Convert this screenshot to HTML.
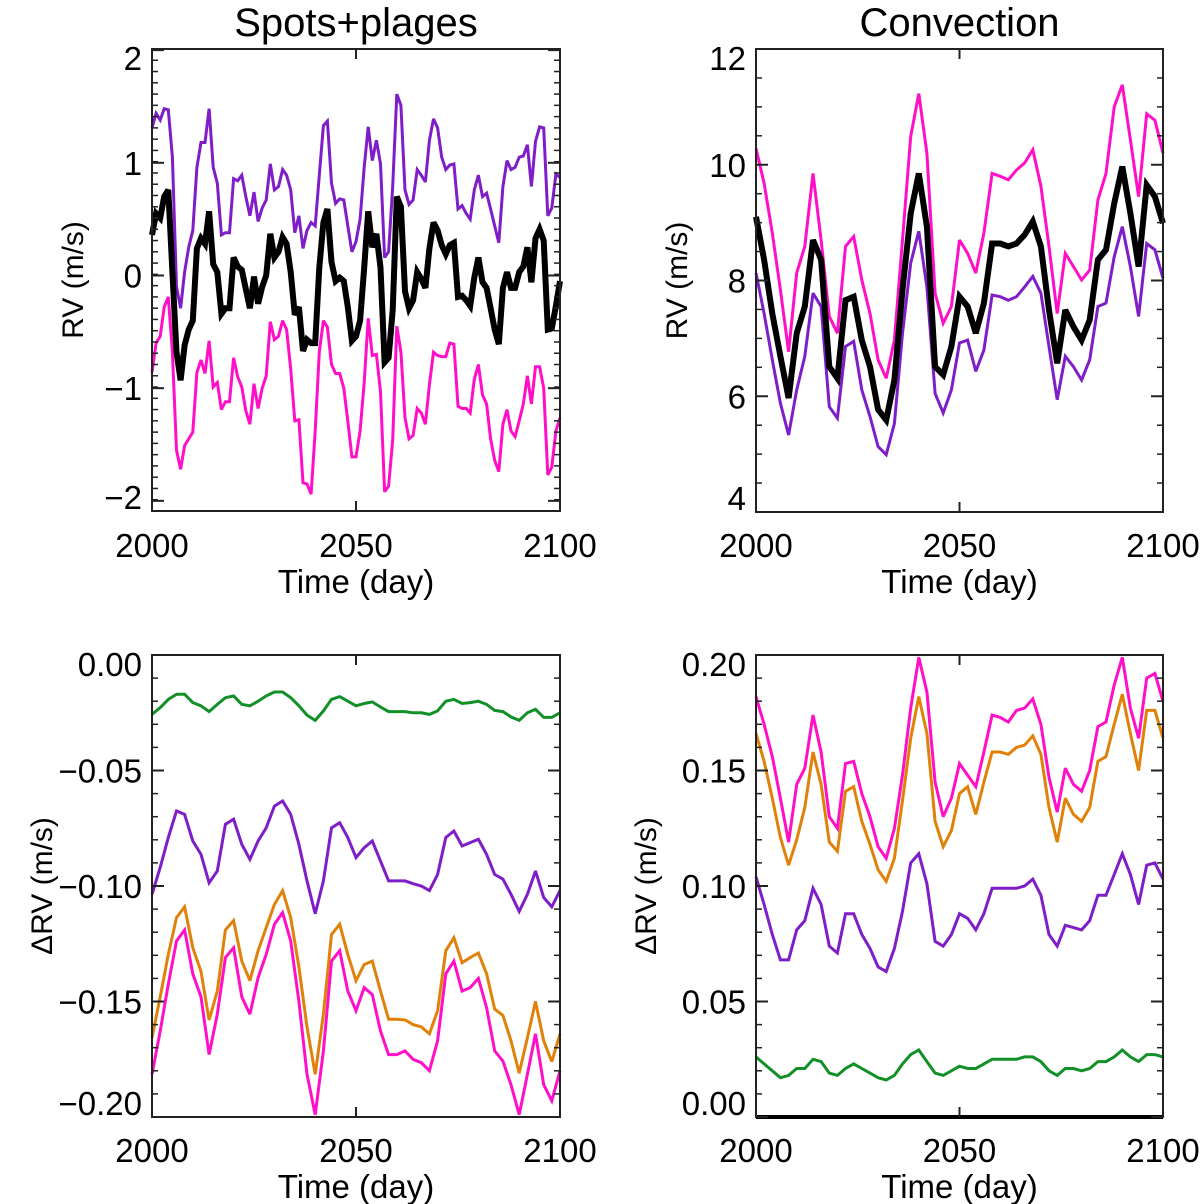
<!DOCTYPE html>
<html><head><meta charset="utf-8"><style>
html,body{margin:0;padding:0;background:#fff;}
svg{display:block;font-family:"Liberation Sans",Arial,sans-serif;}
</style></head><body>
<svg id="fig" width="1200" height="1204" viewBox="0 0 1200 1204" xmlns="http://www.w3.org/2000/svg"></svg>
<script>
// ---------- data ----------
const daysDaily = Array.from({length:101},(_,i)=>2000+i);
const days2 = Array.from({length:51},(_,i)=>2000+2*i);

const spPurple = [1.31,1.44,1.38,1.48,1.47,1.05,-0.1,-0.29,0.03,0.25,0.40,0.96,1.18,1.18,1.48,0.96,0.82,0.36,0.38,0.38,0.86,0.84,0.89,0.70,0.53,0.74,0.48,0.60,0.67,0.99,0.76,0.79,0.94,0.89,0.76,0.38,0.53,0.24,0.40,0.47,0.44,0.89,1.33,1.37,0.82,0.64,0.68,0.67,0.44,0.21,0.30,0.50,0.96,1.32,1.02,1.20,0.99,0.16,0.21,0.79,1.61,1.51,0.76,0.63,0.67,0.94,0.89,0.83,1.20,1.39,1.31,1.05,0.94,0.98,0.99,0.59,0.62,0.55,0.50,0.76,0.89,0.70,0.73,0.59,0.44,0.29,0.79,1.02,0.94,0.96,1.05,1.06,1.16,0.79,1.19,1.32,1.31,0.53,0.60,0.90,0.87];
const spBlack = [0.36,0.55,0.51,0.70,0.76,0.03,-0.68,-0.93,-0.62,-0.48,-0.40,0.24,0.33,0.28,0.57,0.10,0.03,-0.34,-0.29,-0.29,0.16,0.08,0.05,-0.12,-0.29,-0.01,-0.25,-0.10,0.0,0.37,0.16,0.21,0.34,0.28,0.03,-0.35,-0.28,-0.67,-0.57,-0.60,-0.60,0.07,0.47,0.59,0.12,-0.05,-0.02,-0.05,-0.28,-0.58,-0.54,-0.40,0.07,0.57,0.25,0.37,0.07,-0.77,-0.73,-0.31,0.70,0.61,-0.14,-0.29,-0.22,0.03,-0.03,-0.11,0.24,0.47,0.40,0.27,0.19,0.27,0.29,-0.19,-0.18,-0.22,-0.27,-0.02,0.16,-0.06,-0.11,-0.29,-0.48,-0.61,-0.11,0.03,-0.11,-0.11,0.03,0.08,0.25,-0.06,0.33,0.41,0.31,-0.48,-0.47,-0.27,-0.05];
const spPink = [-0.86,-0.60,-0.54,-0.28,-0.19,-0.68,-1.55,-1.72,-1.51,-1.45,-1.39,-0.86,-0.75,-0.87,-0.58,-0.99,-0.95,-1.19,-1.12,-1.12,-0.73,-0.90,-0.99,-1.20,-1.32,-0.96,-1.18,-1.00,-0.89,-0.41,-0.57,-0.54,-0.40,-0.48,-0.83,-1.29,-1.28,-1.84,-1.85,-1.94,-1.38,-0.68,-0.40,-0.46,-0.79,-0.87,-0.87,-1.00,-1.29,-1.61,-1.61,-1.38,-0.95,-0.38,-0.71,-0.70,-1.03,-1.92,-1.87,-1.46,-0.45,-0.68,-1.26,-1.45,-1.42,-1.18,-1.22,-1.32,-0.97,-0.68,-0.71,-0.72,-0.72,-0.60,-0.61,-1.16,-1.18,-1.18,-1.22,-0.92,-0.79,-1.06,-1.14,-1.45,-1.64,-1.74,-1.32,-1.19,-1.38,-1.43,-1.29,-1.14,-0.89,-1.14,-0.81,-0.81,-1.00,-1.77,-1.70,-1.38,-1.26];

const cvPink = [10.28,9.68,8.82,7.84,6.77,8.13,8.59,9.85,8.70,7.38,7.09,8.59,8.76,8.01,7.43,6.63,6.31,6.97,8.70,10.49,11.23,10.20,7.78,7.26,7.55,8.70,8.47,8.13,8.82,9.85,9.80,9.74,9.91,10.03,10.26,9.63,8.59,7.43,8.47,8.24,8.01,8.18,9.39,9.85,11.0,11.38,10.43,9.45,10.88,10.77,10.20];
const cvBlack = [9.10,8.36,7.43,6.69,5.97,7.09,7.55,8.70,8.36,6.51,6.31,7.66,7.72,6.97,6.51,5.77,5.59,6.28,7.84,9.16,9.85,8.93,6.51,6.37,6.86,7.72,7.55,7.09,7.61,8.64,8.64,8.59,8.64,8.79,9.02,8.59,7.49,6.57,7.49,7.20,6.97,7.32,8.36,8.53,9.33,9.97,9.16,8.24,9.65,9.45,8.99];
const cvPurple = [8.13,7.43,6.63,5.88,5.33,6.11,6.69,7.78,7.55,5.82,5.62,6.86,6.95,6.11,5.65,5.13,4.99,5.53,7.09,8.30,8.85,7.89,6.05,5.71,6.11,6.92,6.97,6.43,6.80,7.75,7.72,7.66,7.72,7.89,8.07,7.78,6.86,5.94,6.69,6.51,6.28,6.63,7.55,7.61,8.41,8.93,8.24,7.38,8.64,8.53,8.04];

const dspGreen = [-0.0257,-0.0228,-0.0192,-0.017,-0.017,-0.0206,-0.022,-0.0245,-0.0214,-0.0185,-0.0177,-0.0214,-0.022,-0.020,-0.0177,-0.016,-0.016,-0.0185,-0.022,-0.026,-0.0283,-0.0242,-0.0192,-0.018,-0.020,-0.022,-0.021,-0.0203,-0.0225,-0.0245,-0.0245,-0.0245,-0.025,-0.025,-0.0257,-0.0242,-0.020,-0.0192,-0.021,-0.0206,-0.020,-0.0214,-0.024,-0.0245,-0.0268,-0.0283,-0.025,-0.0235,-0.027,-0.027,-0.025];
const dspPurple = [-0.1036,-0.092,-0.079,-0.0675,-0.069,-0.0805,-0.0863,-0.0986,-0.0935,-0.0733,-0.0711,-0.082,-0.0885,-0.0805,-0.0748,-0.0654,-0.0632,-0.069,-0.082,-0.0978,-0.112,-0.0978,-0.0748,-0.0726,-0.079,-0.0877,-0.0834,-0.0805,-0.0892,-0.0978,-0.0978,-0.0978,-0.099,-0.100,-0.102,-0.095,-0.079,-0.0762,-0.0827,-0.0812,-0.0798,-0.0863,-0.095,-0.097,-0.1036,-0.111,-0.1036,-0.0935,-0.105,-0.109,-0.102];
const dspOrange = [-0.1657,-0.148,-0.1296,-0.1137,-0.109,-0.1267,-0.137,-0.158,-0.1455,-0.119,-0.115,-0.1325,-0.141,-0.128,-0.118,-0.108,-0.102,-0.1137,-0.135,-0.161,-0.1815,-0.1555,-0.121,-0.1166,-0.1296,-0.141,-0.134,-0.1325,-0.1455,-0.1577,-0.1577,-0.158,-0.160,-0.161,-0.164,-0.154,-0.128,-0.1224,-0.1332,-0.131,-0.129,-0.138,-0.1533,-0.156,-0.167,-0.181,-0.1657,-0.150,-0.167,-0.176,-0.164];
const dspPink = [-0.1815,-0.1628,-0.1425,-0.1238,-0.119,-0.138,-0.148,-0.173,-0.1555,-0.131,-0.1267,-0.148,-0.1555,-0.1397,-0.1296,-0.1166,-0.1115,-0.1238,-0.150,-0.1815,-0.199,-0.1714,-0.1325,-0.128,-0.1455,-0.154,-0.144,-0.147,-0.1628,-0.173,-0.173,-0.1714,-0.175,-0.1765,-0.180,-0.167,-0.138,-0.1325,-0.1455,-0.144,-0.140,-0.1527,-0.1714,-0.1758,-0.186,-0.199,-0.1815,-0.164,-0.186,-0.193,-0.180];

const dcvPink = [0.182,0.170,0.156,0.138,0.119,0.144,0.151,0.174,0.158,0.130,0.125,0.153,0.154,0.140,0.130,0.117,0.112,0.125,0.148,0.177,0.199,0.184,0.145,0.130,0.138,0.153,0.148,0.143,0.158,0.174,0.173,0.171,0.176,0.177,0.181,0.170,0.147,0.132,0.151,0.144,0.141,0.150,0.169,0.171,0.187,0.199,0.177,0.164,0.190,0.192,0.180];
const dcvOrange = [0.166,0.154,0.138,0.121,0.109,0.120,0.134,0.158,0.144,0.119,0.115,0.141,0.143,0.128,0.118,0.107,0.102,0.112,0.137,0.164,0.182,0.166,0.128,0.117,0.124,0.140,0.143,0.131,0.145,0.158,0.158,0.157,0.160,0.161,0.165,0.157,0.134,0.119,0.138,0.131,0.128,0.134,0.154,0.156,0.170,0.183,0.166,0.150,0.176,0.176,0.164];
const dcvPurple = [0.104,0.092,0.079,0.068,0.068,0.081,0.085,0.099,0.092,0.074,0.071,0.088,0.088,0.079,0.073,0.065,0.063,0.073,0.089,0.110,0.114,0.101,0.076,0.074,0.079,0.088,0.086,0.081,0.088,0.099,0.099,0.099,0.099,0.100,0.103,0.096,0.079,0.074,0.083,0.082,0.081,0.085,0.096,0.096,0.105,0.114,0.105,0.092,0.109,0.110,0.103];
const dcvGreen = [0.026,0.023,0.020,0.017,0.018,0.021,0.021,0.025,0.024,0.019,0.018,0.021,0.023,0.021,0.019,0.017,0.016,0.018,0.023,0.027,0.029,0.024,0.019,0.018,0.020,0.022,0.021,0.021,0.023,0.025,0.025,0.025,0.025,0.026,0.026,0.024,0.020,0.018,0.021,0.021,0.020,0.021,0.024,0.024,0.026,0.029,0.026,0.024,0.027,0.027,0.026];

const xTicks = [2000,2050,2100];
const tlTicks = [-2,-1,0,1,2];
const trTicks = [4,6,8,10,12];
const blTicks = [-0.20,-0.15,-0.10,-0.05,0.00];
const brTicks = [0.00,0.05,0.10,0.15,0.20];

// ---------- drawing ----------
const NS="http://www.w3.org/2000/svg";
const svg=document.getElementById('fig');
const C={purple:'#7f1ec8',pink:'#ff10c8',black:'#000',orange:'#e0820a',green:'#129028'};
function mk(tag,attrs,parent){const e=document.createElementNS(NS,tag);for(const k in attrs)e.setAttribute(k,attrs[k]);(parent||svg).appendChild(e);return e;}

function panel(cfg){
  const g=mk('g',{});
  
  
  const L=cfg.L,R=cfg.R,T=cfg.T,B=cfg.B;
  const sx=v=>L+(v-2000)/100*(R-L);
  const sy=v=>B-(v-cfg.ymin)/(cfg.ymax-cfg.ymin)*(B-T);
  // series
  cfg.series.forEach(s=>{
    const d=s.y.map((v,i)=>(i?'L':'M')+sx(s.x[i]).toFixed(1)+' '+sy(v).toFixed(1)).join(' ');
    const p=mk('path',{d:d,fill:'none',stroke:s.color,'stroke-width':s.w,'stroke-linejoin':'miter','stroke-miterlimit':3},g);
    
    
  });
  // frame
  const fr=mk('rect',{x:L,y:T,width:R-L,height:B-T,fill:'none',stroke:'#222','stroke-width':2},g);
  
  
  if(cfg.thickBottom){const zl=mk('line',{x1:L,x2:R,y1:B,y2:B,stroke:'#000','stroke-width':4},g);
    
    }
  // x ticks
  cfg.xticks.forEach(t=>{
    const x=sx(t);
    mk('line',{x1:x,x2:x,y1:T,y2:T+10,stroke:'#222','stroke-width':2},g);
    mk('line',{x1:x,x2:x,y1:B,y2:B-10,stroke:'#222','stroke-width':2},g);
    const tx=mk('text',{x:x,y:cfg.xlabY,'text-anchor':'middle','font-size':33},g);
    tx.textContent=String(t);
    
    
  });
  // y minor ticks
  for(let v=cfg.ymin;v<=cfg.ymax+1e-9;v+=cfg.minor){
    const y=sy(v);
    mk('line',{x1:L,x2:L+6,y1:y,y2:y,stroke:'#222','stroke-width':1.5},g);
    mk('line',{x1:R,x2:R-6,y1:y,y2:y,stroke:'#222','stroke-width':1.5},g);
  }
  cfg.yticks.forEach(t=>{
    const y=sy(t);
    mk('line',{x1:L,x2:L+12,y1:y,y2:y,stroke:'#222','stroke-width':2},g);
    mk('line',{x1:R,x2:R-12,y1:y,y2:y,stroke:'#222','stroke-width':2},g);
    const ly=Math.min(Math.max(y,T+9),B-14)+12;
    const tx=mk('text',{x:L-10,y:ly,'text-anchor':'end','font-size':33},g);
    tx.textContent=cfg.fmt(t);
    
    
  });
  const xt=mk('text',{x:(L+R)/2,y:cfg.xlabY+36,'text-anchor':'middle','font-size':33},g);
  xt.textContent='Time (day)';
  
  
  const yc=(T+B)/2, yx=cfg.ytitleX;
  const yt=mk('text',{x:yx,y:yc,'text-anchor':'middle','font-size':30,transform:`rotate(-90 ${yx} ${yc})`},g);
  yt.textContent=cfg.ytitle;
  
  
  if(cfg.title){const tt=mk('text',{x:(L+R)/2,y:36,'text-anchor':'middle','font-size':40},g);
    tt.textContent=cfg.title;
    
    }
}
const minus=s=>s.replace('-','\u2212');
panel({name:'spots-plages-rv-panel',title:'Spots+plages',L:152,R:560,T:49,B:511,ymin:-2.09,ymax:2.01,minor:0.1,
  yticks:tlTicks,xticks:xTicks,xlabY:557,ytitle:'RV (m/s)',ytitleX:83,fmt:t=>minus(String(t)),
  series:[{name:'spots-purple-line',x:daysDaily,y:spPurple,color:C.purple,w:3},
          {name:'spots-pink-line',x:daysDaily,y:spPink,color:C.pink,w:3},
          {name:'spots-black-line',x:daysDaily,y:spBlack,color:C.black,w:6}]});
panel({name:'convection-rv-panel',title:'Convection',L:756,R:1163,T:49,B:512,ymin:4,ymax:12,minor:0.5,
  yticks:trTicks,xticks:xTicks,xlabY:557,ytitle:'RV (m/s)',ytitleX:687,fmt:t=>String(t),
  series:[{name:'convection-pink-line',x:days2,y:cvPink,color:C.pink,w:3},
          {name:'convection-purple-line',x:days2,y:cvPurple,color:C.purple,w:3},
          {name:'convection-black-line',x:days2,y:cvBlack,color:C.black,w:6}]});
panel({name:'spots-delta-rv-panel',L:152,R:560,T:655,B:1117,ymin:-0.20,ymax:0.0,minor:0.01,
  yticks:blTicks,xticks:xTicks,xlabY:1162,ytitle:'\u0394RV (m/s)',ytitleX:52,fmt:t=>minus(t.toFixed(2)),
  series:[{name:'spots-delta-green-line',x:days2,y:dspGreen,color:C.green,w:3},
          {name:'spots-delta-purple-line',x:days2,y:dspPurple,color:C.purple,w:3},
          {name:'spots-delta-orange-line',x:days2,y:dspOrange,color:C.orange,w:3},
          {name:'spots-delta-pink-line',x:days2,y:dspPink,color:C.pink,w:3}]});
panel({name:'convection-delta-rv-panel',L:756,R:1163,T:655,B:1117,ymin:0,ymax:0.20,minor:0.01,thickBottom:true,
  yticks:brTicks,xticks:xTicks,xlabY:1162,ytitle:'\u0394RV (m/s)',ytitleX:656,fmt:t=>t.toFixed(2),
  series:[{name:'convection-delta-green-line',x:days2,y:dcvGreen,color:C.green,w:3},
          {name:'convection-delta-purple-line',x:days2,y:dcvPurple,color:C.purple,w:3},
          {name:'convection-delta-orange-line',x:days2,y:dcvOrange,color:C.orange,w:3},
          {name:'convection-delta-pink-line',x:days2,y:dcvPink,color:C.pink,w:3}]});
</script>
</body></html>
